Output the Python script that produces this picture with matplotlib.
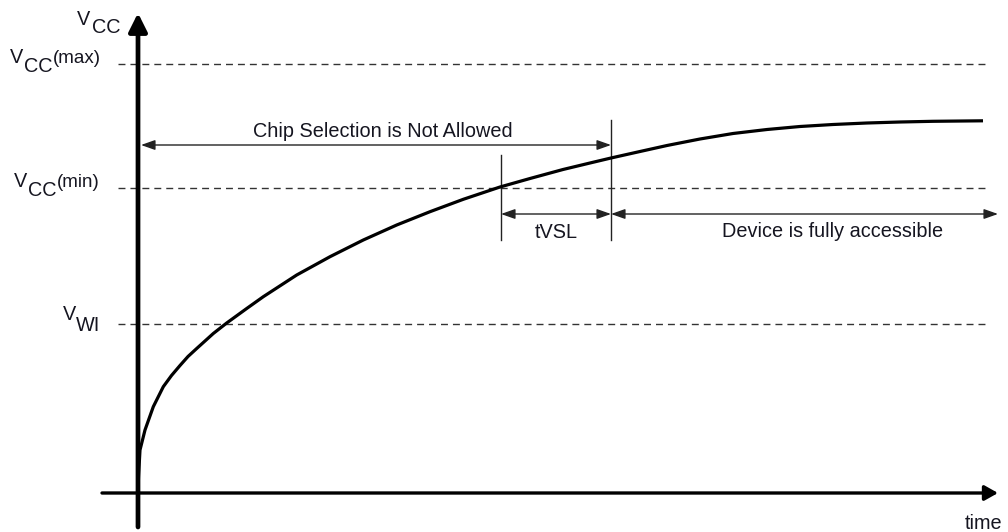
import matplotlib
matplotlib.use("Agg")
import matplotlib.pyplot as plt

# ---- data (time units / voltage units) ----
curve_t = [0, 0.5, 2, 7, 15.3, 25.3, 33.5, 42, 50, 58.7, 75.3, 88.7, 108.7, 125.3, 158.7, 192,
           225.3, 258.7, 292, 325.3, 362, 392, 425, 452, 473, 502, 529, 562, 595, 629, 662,
           695, 729, 762, 795, 845]
curve_v = [0, 16.3, 43, 63, 86.3, 106.3, 117.5, 127.5, 136.5, 144.5, 159.5, 170, 184.5, 196.3,
           218, 236.3, 253, 268, 281.3, 293.7, 306, 314.5, 323.5, 330, 335, 341.5, 347.5, 354,
           359.5, 363.5, 366.5, 368.5, 370, 371, 371.7, 372.2]

vcc_max = 429
vcc_min = 305
v_wi = 169

t_vsl_start = 363
t_vsl_end = 473
t_end = 860
v_top = 480

chip_text = "Chip Selection is Not Allowed"
tvsl_text = "tVSL"
device_text = "Device is fully accessible"
time_text = "time"

FONT = "Liberation Sans"
TXT = "#151520"
LINE = "#222222"

fig = plt.figure(figsize=(10.08, 5.32), dpi=100)
ax = fig.add_axes([0, 0, 1, 1])
ax.set_xlim(-138, 870)
ax.set_ylim(-39, 493)
ax.axis("off")

# dashed reference levels
for lvl in (vcc_max, vcc_min, v_wi):
    ax.plot([-20, 849], [lvl, lvl], color="#333333", lw=1.0, dashes=(5, 3.6), zorder=1)

# axes with arrows
ax.annotate("", xy=(0, v_top), xytext=(0, -34),
            arrowprops=dict(arrowstyle="-|>,head_length=11,head_width=5.5", mutation_scale=1,
                            lw=3.4, color="black", shrinkA=0, shrinkB=0), zorder=5)
ax.annotate("", xy=(t_end, 0), xytext=(-36, 0),
            arrowprops=dict(arrowstyle="-|>,head_length=8,head_width=4.5", mutation_scale=1,
                            lw=2.4, color="black", shrinkA=0, shrinkB=0), zorder=5)

# curve
ax.plot(curve_t, curve_v, color="black", lw=2.3, solid_joinstyle="round",
        solid_capstyle="butt", zorder=4)

# vertical markers
ax.plot([t_vsl_start, t_vsl_start], [253, 338], color=LINE, lw=1.0, zorder=3)
ax.plot([t_vsl_end, t_vsl_end], [253, 373], color=LINE, lw=1.0, zorder=3)

thin = dict(arrowstyle="<|-|>,head_length=8.5,head_width=3", mutation_scale=1,
            lw=1.0, color=LINE, shrinkA=0, shrinkB=0)
ax.annotate("", xy=(3, 348), xytext=(t_vsl_end, 348), arrowprops=thin, zorder=3)
ax.annotate("", xy=(t_vsl_start, 279), xytext=(t_vsl_end, 279), arrowprops=thin, zorder=3)
ax.annotate("", xy=(t_vsl_end, 279), xytext=(t_end, 279), arrowprops=thin, zorder=3)

fs = 14.3
ax.text(245, 356, chip_text, ha="center", va="baseline", fontsize=fs, family=FONT, color=TXT)
ax.text((t_vsl_start + t_vsl_end) / 2, 255, tvsl_text, ha="center", va="baseline",
        fontsize=fs, family=FONT, color=TXT)
ax.text(695, 256, device_text, ha="center", va="baseline", fontsize=fs, family=FONT, color=TXT)
ax.text(827, -36, time_text, ha="left", va="baseline", fontsize=fs, family=FONT, color=TXT)

# level labels  (V + subscript + suffix)
ls = 14.3
def vlabel(xv, yv, sub, xs, ys, suffix=None, xsuf=None):
    ax.text(xv, yv, "V", ha="left", va="baseline", fontsize=ls, family=FONT, color=TXT)
    ax.text(xs, ys, sub, ha="left", va="baseline", fontsize=ls, family=FONT, color=TXT)
    if suffix:
        ax.text(xsuf, yv, suffix, ha="left", va="baseline", fontsize=ls - 0.8,
                family=FONT, color=TXT)

vlabel(77 - 138, 493 - 25, "CC", 92 - 138, 493 - 33)
vlabel(10 - 138, 493 - 63, "CC", 24 - 138, 493 - 72, "(max)", 53 - 138)
vlabel(14 - 138, 493 - 187, "CC", 28 - 138, 493 - 196, "(min)", 57 - 138)
vlabel(63 - 138, 493 - 320, "WI", 76 - 138, 493 - 331)

fig.savefig("out.png", dpi=100)
